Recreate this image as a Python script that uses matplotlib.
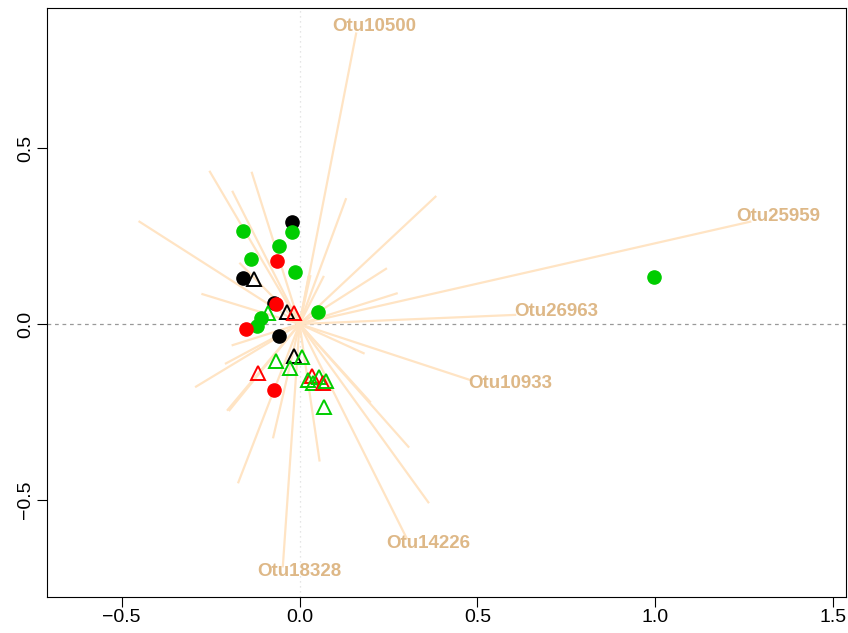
import numpy as np
import matplotlib.pyplot as plt

plt.rcParams['font.family'] = ['Liberation Sans', 'DejaVu Sans']

# site scores: circles
circ_x = [-0.022, -0.022, -0.158, -0.057, -0.136, -0.064, -0.013, -0.158,
          -0.071, -0.067, 0.053, -0.108, -0.119, -0.151, -0.058, -0.073, 0.997]
circ_y = [0.291, 0.261, 0.264, 0.221, 0.184, 0.179, 0.147, 0.132,
          0.060, 0.056, 0.035, 0.018, -0.005, -0.014, -0.033, -0.189, 0.135]
circ_col = ['black', 'g', 'g', 'g', 'g', 'r', 'g', 'black',
            'black', 'r', 'g', 'g', 'g', 'r', 'black', 'r', 'g']

# site scores: triangles
tri_x = [-0.128, -0.088, -0.034, -0.015, -0.015, 0.008, -0.065, -0.027,
         -0.116, 0.034, 0.056, 0.025, 0.039, 0.067, 0.075, 0.069]
tri_y = [0.127, 0.030, 0.035, 0.030, -0.090, -0.095, -0.104, -0.126,
         -0.140, -0.148, -0.150, -0.159, -0.168, -0.168, -0.162, -0.235]
tri_col = ['black', 'g', 'black', 'r', 'black', 'g', 'g', 'g',
           'r', 'r', 'g', 'g', 'g', 'r', 'g', 'g']

# species vectors (unlabelled)
vec_x = [-0.252, -0.134, -0.188, -0.450, 0.130, 0.382, 0.243, 0.273,
         -0.273, -0.167, 0.030, 0.067, 0.025, -0.188, -0.207, -0.291,
         -0.202, -0.197, -0.172, -0.074, 0.056, 0.180, 0.198, 0.306, 0.362]
vec_y = [0.433, 0.430, 0.376, 0.291, 0.355, 0.362, 0.157, 0.087,
         0.085, 0.172, 0.136, 0.134, 0.134, -0.060, -0.112, -0.178,
         -0.244, -0.245, -0.450, -0.322, -0.388, -0.083, -0.221, -0.349, -0.507]

# labelled vectors
lab_names = ['Otu10500', 'Otu25959', 'Otu26963', 'Otu10933', 'Otu14226', 'Otu18328']
lab_x = [0.159, 1.267, 0.606, 0.479, 0.301, -0.047]
lab_y = [0.826, 0.291, 0.026, -0.159, -0.609, -0.689]
txt_x = [0.209, 1.345, 0.721, 0.592, 0.362, 0.000]
txt_y = [0.845, 0.307, 0.035, -0.170, -0.623, -0.705]

colmap = {'g': '#00CD00', 'r': '#FF0000', 'black': 'black'}

fig = plt.figure(figsize=(8.48, 6.33), dpi=100)
ax = fig.add_axes([0.055, 0.057, 0.943, 0.93])

ax.axhline(0, color='#999999', lw=0.9, ls=(0, (3, 3)), zorder=1)
ax.axvline(0, color='#dddddd', lw=0.9, ls=(0, (1, 3)), zorder=1)

for x, y in zip(vec_x + lab_x, vec_y + lab_y):
    ax.plot([0, x], [0, y], color='#FFE4C4', lw=1.6, zorder=2)

for name, x, y in zip(lab_names, txt_x, txt_y):
    ax.text(x, y, name, color='#DEB887', fontsize=13.5, fontweight='bold',
            ha='center', va='center', zorder=3)

for x, y, c in zip(circ_x, circ_y, circ_col):
    ax.plot(x, y, 'o', ms=9.5, color=colmap[c], mec=colmap[c], zorder=4)

for x, y, c in zip(tri_x, tri_y, tri_col):
    ax.plot(x, y, '^', ms=10, mfc='none', mec=colmap[c], mew=1.4, zorder=4)

ax.set_xlim(-0.711, 1.537)
ax.set_ylim(-0.776, 0.898)
ax.set_xticks([-0.5, 0.0, 0.5, 1.0, 1.5])
ax.set_yticks([-0.5, 0.0, 0.5])
ax.set_xticklabels(['\u22120.5', '0.0', '0.5', '1.0', '1.5'])
ax.set_yticklabels(['\u22120.5', '0.0', '0.5'], rotation=90, va='center')
ax.tick_params(direction='out', length=7, width=0.8, labelsize=14, pad=2)
for s in ax.spines.values():
    s.set_linewidth(0.8)

fig.savefig('out.png', dpi=100)
